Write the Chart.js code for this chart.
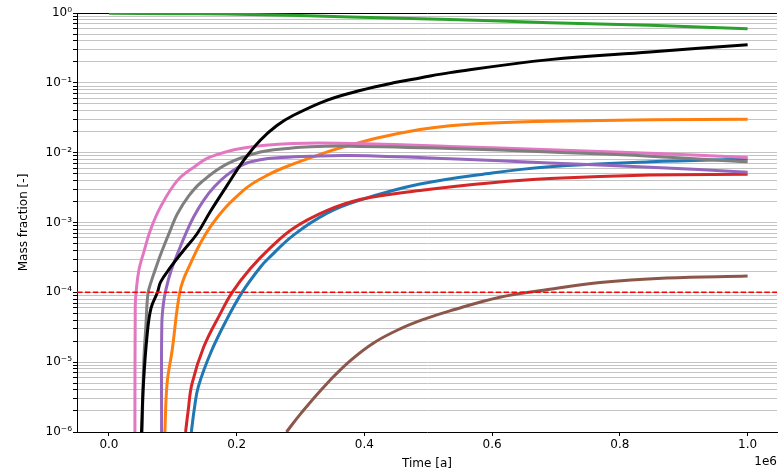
<!DOCTYPE html>
<html>
<head>
<meta charset="utf-8">
<script src="https://cdn.jsdelivr.net/npm/chart.js@4/dist/chart.umd.min.js"></script>
<style>
  html, body { margin: 0; padding: 0; background: #fff; overflow: hidden; }
  canvas { display: block; }
</style>
</head>
<body>
<canvas id="massChart" width="778" height="473"></canvas>
<script>
// x ticks (time in years, shown scaled by 1e6)
const xTickValues = [0, 200000, 400000, 600000, 800000, 1000000];
const xTickLabels = ["0.0", "0.2", "0.4", "0.6", "0.8", "1.0"];
const yMajorValues = [1e-6, 1e-5, 1e-4, 1e-3, 1e-2, 1e-1, 1];
const yTickLabels = ["10\u207B\u2076", "10\u207B\u2075", "10\u207B\u2074", "10\u207B\u00B3", "10\u207B\u00B2", "10\u207B\u00B9", "10\u2070"];
const limitValue = 1e-4;

// series: time [a] and mass fraction [-]
const blueT = [129000, 134000, 140000, 160000, 185000, 208500, 237000, 252500, 289000, 341000, 393000, 487000, 600000, 690000, 847000, 1000000];
const blueY = [1e-6, 2.24e-6, 4.47e-6, 1.41e-5, 4.17e-5, 1.0e-4, 2.29e-4, 3.24e-4, 6.6e-4, 1.35e-3, 2.09e-3, 3.55e-3, 5.13e-3, 6.3e-3, 7.4e-3, 8.1e-3];

const orangeT = [87600, 91000, 99000, 111000, 122500, 159000, 211000, 253000, 289000, 341000, 367000, 420000, 487000, 534000, 600000, 690000, 850000, 1000000];
const orangeY = [1e-6, 4.9e-6, 1.48e-5, 1.0e-4, 2.04e-4, 8.7e-4, 2.9e-3, 5.0e-3, 6.9e-3, 1.02e-2, 1.2e-2, 1.62e-2, 2.14e-2, 2.43e-2, 2.66e-2, 2.82e-2, 2.95e-2, 3.02e-2];

const greenT = [0, 100000, 220000, 378000, 534000, 690000, 847000, 1000000];
const greenY = [0.989, 0.977, 0.955, 0.877, 0.804, 0.728, 0.667, 0.597];

const redT = [120000, 124000, 130000, 148500, 174600, 193000, 221500, 253000, 289000, 341000, 393000, 487000, 600000, 690000, 847000, 1000000];
const redY = [1e-6, 2.0e-6, 4.9e-6, 1.66e-5, 5.0e-5, 1.0e-4, 2.19e-4, 4.37e-4, 8.3e-4, 1.48e-3, 2.14e-3, 2.88e-3, 3.72e-3, 4.27e-3, 4.79e-3, 4.9e-3];

const purpleT = [82400, 82800, 85500, 89500, 97000, 109500, 122500, 133000, 148500, 165000, 185000, 211000, 237000, 270000, 315000, 378000, 534000, 690000, 847000, 1000000];
const purpleY = [1e-6, 3.5e-5, 7.1e-5, 1.12e-4, 2.0e-4, 4.0e-4, 7.7e-4, 1.22e-3, 2.09e-3, 3.24e-3, 4.8e-3, 6.8e-3, 7.9e-3, 8.5e-3, 8.9e-3, 9.1e-3, 8.2e-3, 7.1e-3, 6.2e-3, 5.25e-3];

const brownT = [278000, 300000, 340000, 378000, 415000, 456000, 495000, 534000, 612000, 680000, 769000, 873000, 1000000];
const brownY = [1e-6, 1.82e-6, 4.8e-6, 1.05e-5, 1.9e-5, 3.0e-5, 4.17e-5, 5.43e-5, 8.5e-5, 1.07e-4, 1.38e-4, 1.6e-4, 1.71e-4];

const pinkT = [40700, 41200, 42500, 47000, 54700, 65000, 80600, 107000, 133000, 159000, 211000, 289000, 378000, 534000, 690000, 847000, 1000000];
const pinkY = [1e-6, 6.3e-5, 1.0e-4, 2.1e-4, 3.8e-4, 7.8e-4, 1.66e-3, 3.98e-3, 6.2e-3, 8.7e-3, 1.17e-2, 1.35e-2, 1.35e-2, 1.23e-2, 1.1e-2, 9.8e-3, 8.5e-3];

const grayT = [52000, 54500, 58000, 61000, 65000, 75700, 83000, 96500, 107000, 125000, 145000, 185000, 237000, 280000, 315000, 378000, 534000, 690000, 847000, 1000000];
const grayY = [1e-6, 1.0e-5, 3.5e-5, 9.5e-5, 1.32e-4, 2.57e-4, 3.9e-4, 7.9e-4, 1.32e-3, 2.4e-3, 3.8e-3, 6.9e-3, 1.02e-2, 1.15e-2, 1.22e-2, 1.24e-2, 1.15e-2, 1.02e-2, 8.9e-3, 7.4e-3];

const blackT = [51000, 54000, 60000, 66000, 76000, 81000, 96500, 117000, 138000, 159000, 185000, 211000, 237000, 263000, 289000, 341000, 393000, 445500, 487000, 534000, 690000, 847000, 1000000];
const blackY = [1e-6, 4.9e-6, 2.57e-5, 6.0e-5, 1.0e-4, 1.41e-4, 2.29e-4, 4.0e-4, 6.9e-4, 1.45e-3, 3.4e-3, 7.76e-3, 1.51e-2, 2.45e-2, 3.43e-2, 5.62e-2, 7.76e-2, 0.1, 0.1175, 0.14, 0.215, 0.277, 0.352];

const xMin = -50000;
const xMax = 1046000;

function toPoints(ts, ys) {
    return ts.map((t, i) => ({ x: t, y: ys[i] }));
}

function makeLine(ts, ys, color) {
    return {
        data: toPoints(ts, ys),
        borderColor: color,
        borderWidth: 3,
        pointRadius: 0,
        fill: false,
        tension: 0.4
    };
}

// minor ticks 2..9 per decade for the grid
const yAllTicks = [];
for (let k = -6; k <= 0; k++) {
    yAllTicks.push(Math.pow(10, k));
    if (k < 0) {
        for (let m = 2; m <= 9; m++) yAllTicks.push(m * Math.pow(10, k));
    }
}

function yLabel(v) {
    const lg = Math.log10(v);
    const r = Math.round(lg);
    if (Math.abs(lg - r) > 1e-6) return "";
    const idx = yMajorValues.findIndex(m => Math.abs(Math.log10(m) - r) < 1e-6);
    return idx >= 0 ? yTickLabels[idx] : "";
}

const offsetText = {
    id: "offsetText",
    afterDraw(chart) {
        const ctx = chart.ctx;
        ctx.save();
        ctx.font = "12px 'DejaVu Sans'";
        ctx.fillStyle = "#000";
        ctx.textAlign = "right";
        ctx.textBaseline = "middle";
        ctx.fillText("1e6", 777, 462);
        ctx.restore();
    }
};

document.addEventListener("DOMContentLoaded", () => {
    const ctx = document.getElementById("massChart").getContext("2d");
    Chart.defaults.font.family = "'DejaVu Sans', sans-serif";
    Chart.defaults.color = "#000";

    // first dataset is drawn on top
    const datasets = [
        {
            data: [{ x: xMin, y: limitValue }, { x: xMax, y: limitValue }],
            borderColor: "#ff0000",
            borderWidth: 1.5,
            borderDash: [5.5, 2.4],
            pointRadius: 0,
            fill: false
        },
        makeLine(blackT, blackY, "#000000"),
        makeLine(grayT, grayY, "#7f7f7f"),
        makeLine(pinkT, pinkY, "#e377c2"),
        makeLine(brownT, brownY, "#8c564b"),
        makeLine(purpleT, purpleY, "#9467bd"),
        makeLine(redT, redY, "#d62728"),
        makeLine(greenT, greenY, "#2ca02c"),
        makeLine(orangeT, orangeY, "#ff7f0e"),
        makeLine(blueT, blueY, "#1f77b4")
    ];

    new Chart(ctx, {
        type: "line",
        data: { datasets },
        options: {
            responsive: false,
            animation: false,
            layout: { padding: { top: 13, right: 1, left: 0, bottom: 0 } },
            plugins: { legend: { display: false }, tooltip: { enabled: false } },
            scales: {
                x: {
                    type: "linear",
                    min: xMin,
                    max: xMax,
                    afterBuildTicks: s => { s.ticks = xTickValues.map(v => ({ value: v })); },
                    afterFit: s => { s.height = 41; },
                    ticks: {
                        callback: (v, i) => xTickLabels[i],
                        font: { size: 12 },
                        color: "#000",
                        maxRotation: 0,
                        autoSkip: false,
                        padding: 2
                    },
                    grid: { drawOnChartArea: false, tickLength: 4, tickColor: "#000" },
                    border: { display: true, color: "#000", width: 1 },
                    title: { display: true, text: "Time [a]", font: { size: 12 }, padding: { top: 0, bottom: 2 } }
                },
                y: {
                    type: "logarithmic",
                    min: 1e-6,
                    max: 1,
                    afterBuildTicks: s => { s.ticks = yAllTicks.map(v => ({ value: v })); },
                    afterFit: s => { s.width = 77; },
                    ticks: {
                        callback: v => yLabel(v),
                        font: { size: 12 },
                        color: "#000",
                        autoSkip: false,
                        padding: 1
                    },
                    grid: {
                        color: c => (c.tick && Math.abs(c.tick.value - 1) < 1e-9) ? "#000" : "#c4c4c4",
                        lineWidth: 1,
                        tickLength: 4,
                        tickColor: "#000"
                    },
                    border: { display: true, color: "#000", width: 1 },
                    title: { display: true, text: "Mass fraction [-]", font: { size: 12 }, padding: { top: 17, bottom: 0 } }
                }
            }
        },
        plugins: [offsetText]
    });
});
</script>
</body>
</html>
